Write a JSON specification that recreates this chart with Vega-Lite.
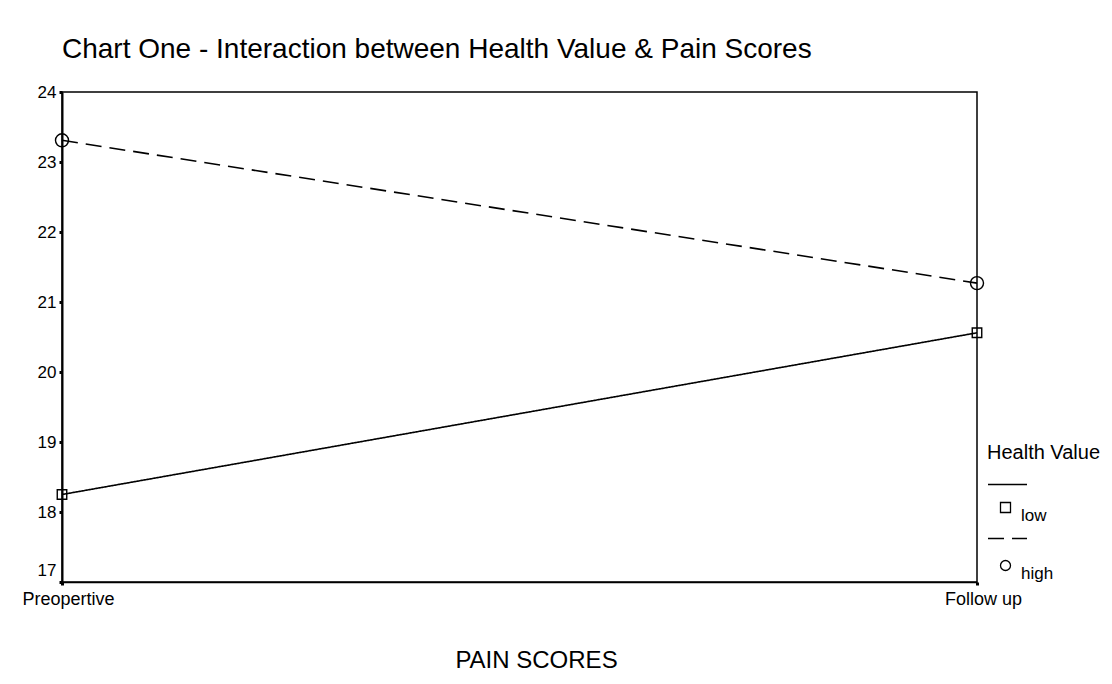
{
  "$schema": "https://vega.github.io/schema/vega-lite/v6.json",
  "width": 915,
  "height": 490,
  "autosize": {"type": "none"},
  "padding": {"left": 62, "top": 92, "right": 135, "bottom": 102},
  "background": "white",
  "title": {
    "text": "Chart One - Interaction between Health Value & Pain Scores",
    "anchor": "start",
    "frame": "group",
    "baseline": "alphabetic",
    "offset": 32,
    "dy": 35,
    "fontSize": 28,
    "font": "Liberation Sans",
    "fontWeight": "normal",
    "color": "black"
  },
  "config": {
    "view": {"stroke": "black", "strokeWidth": 1.5},
    "font": "Liberation Sans"
  },
  "data": {
    "values": [
      {"stage": "Preopertive", "health": "low", "score": 18.25},
      {"stage": "Follow up", "health": "low", "score": 20.56},
      {"stage": "Preopertive", "health": "high", "score": 23.31},
      {"stage": "Follow up", "health": "high", "score": 21.27}
    ]
  },
  "encoding": {
    "x": {
      "field": "stage",
      "type": "nominal",
      "sort": ["Preopertive", "Follow up"],
      "scale": {"type": "point", "padding": 0},
      "axis": {
        "title": "PAIN SCORES",
        "labelAngle": 0,
        "labelFontSize": 18,
        "labelColor": "black",
        "labelPadding": 5,
        "labelOffset": 6,
        "domainColor": "black",
        "domainWidth": 1.5,
        "tickColor": "black",
        "tickSize": 3,
        "tickWidth": 3,
        "grid": false,
        "titleFontSize": 24,
        "titleFontWeight": "normal",
        "titleColor": "black",
        "titleBaseline": "alphabetic",
        "titleAlign": "center",
        "titleX": 474,
        "titleY": 85
      }
    },
    "y": {
      "field": "score",
      "type": "quantitative",
      "scale": {"domain": [17, 24], "nice": false, "zero": false},
      "axis": {
        "title": null,
        "values": [17, 17.5, 18, 18.5, 19, 19.5, 20, 20.5, 21, 21.5, 22, 22.5, 23, 23.5, 24],
        "format": "d",
        "labelExpr": "datum.value % 1 === 0 ? datum.label : ''",
        "labelFontSize": 17,
        "labelColor": "black",
        "labelPadding": 3,
        "labelOffset": {"condition": {"test": "datum.value === 17", "value": -12}, "value": 0},
        "tickColor": "black",
        "tickSize": {"condition": {"test": "datum.value % 1 === 0", "value": 3}, "value": 5},
        "tickWidth": {"condition": {"test": "datum.value % 1 === 0", "value": 3}, "value": 1},
        "domainColor": "black",
        "domainWidth": 2,
        "grid": false
      }
    }
  },
  "layer": [
    {
      "mark": {"type": "line", "color": "black", "strokeWidth": 1.6},
      "encoding": {
        "strokeDash": {
          "field": "health",
          "type": "nominal",
          "sort": "descending",
          "scale": {"range": [[1, 0], [16, 8]]},
          "legend": {
            "title": null,
            "orient": "none",
            "legendX": 925,
            "legendY": 372,
            "symbolType": "stroke",
            "symbolSize": 1521,
            "symbolStrokeColor": "black",
            "symbolStrokeWidth": 1.5,
            "labelExpr": "''",
            "rowPadding": 28,
            "padding": 0
          }
        }
      }
    },
    {
      "mark": {"type": "point", "filled": false, "color": "black", "strokeWidth": 1.4, "opacity": 1},
      "encoding": {
        "shape": {
          "field": "health",
          "type": "nominal",
          "scale": {"domain": ["low", "high"], "range": ["square", "circle"]},
          "legend": {
            "title": "Health Value",
            "orient": "none",
            "legendX": 925,
            "legendY": 351,
            "titleFontSize": 20,
            "titleFontWeight": "normal",
            "titleColor": "black",
            "titlePadding": 36,
            "labelFontSize": 17,
            "labelColor": "black",
            "labelBaseline": "top",
            "symbolSize": 100,
            "symbolStrokeColor": "black",
            "symbolStrokeWidth": 1.3,
            "symbolOffset": 10,
            "labelOffset": 7,
            "rowPadding": 33,
            "padding": 0
          }
        },
        "size": {
          "field": "health",
          "type": "nominal",
          "sort": "ascending",
          "scale": {"range": [170, 90]},
          "legend": null
        }
      }
    }
  ]
}
